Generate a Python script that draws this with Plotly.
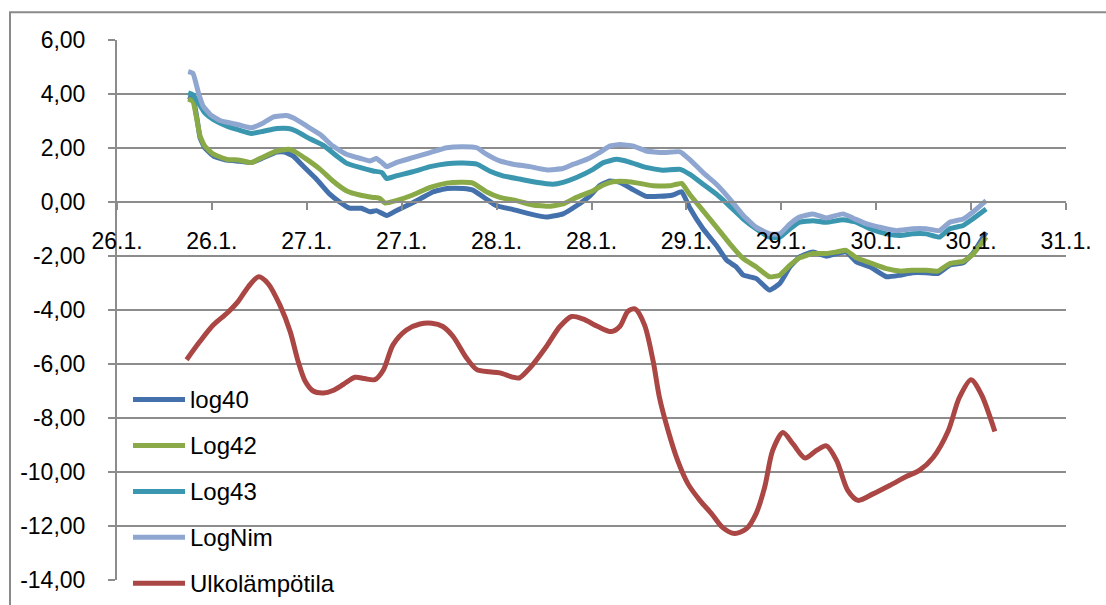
import plotly.graph_objects as go

# Hours counted from 26.1. 00:00, paired with the logged value
LOG40 = [(9.0, 3.91), (9.6, 3.82), (10.1, 3.12), (10.5, 2.38), (11.1, 2.01), (12.2, 1.70),
         (13.9, 1.55), (15.5, 1.51), (17.0, 1.46), (18.5, 1.64), (20.2, 1.85), (21.2, 1.85),
         (22.3, 1.70), (23.5, 1.34), (25.2, 0.85), (26.9, 0.29), (28.2, -0.01), (29.4, -0.23),
         (30.9, -0.23), (32.0, -0.36), (32.8, -0.32), (34.1, -0.50), (35.3, -0.32), (36.6, -0.14),
         (38.3, 0.11), (40.0, 0.38), (41.7, 0.50), (43.8, 0.50), (45.0, 0.44), (46.7, 0.11),
         (48.0, -0.14), (50.1, -0.28), (52.2, -0.44), (54.3, -0.56), (56.4, -0.44), (58.1, -0.14),
         (59.8, 0.23), (61.0, 0.60), (62.3, 0.78), (63.6, 0.73), (65.3, 0.45), (66.9, 0.21),
         (68.6, 0.21), (70.3, 0.26), (71.4, 0.38), (72.4, -0.20), (74.1, -0.99), (75.8, -1.61),
         (77.1, -2.16), (78.3, -2.40), (79.2, -2.71), (80.8, -2.83), (82.5, -3.26), (83.8, -3.02),
         (85.1, -2.40), (86.3, -2.04), (88.0, -1.85), (89.7, -2.01), (91.0, -1.91), (92.2, -1.85),
         (93.5, -2.22), (95.2, -2.40), (97.3, -2.77), (99.0, -2.71), (100.6, -2.62), (102.3, -2.62),
         (103.8, -2.65), (105.3, -2.34), (107.0, -2.25), (108.2, -1.91), (109.9, -1.12)]

LOG42 = [(9.0, 3.82), (9.6, 3.73), (10.1, 3.05), (10.5, 2.44), (11.1, 2.07), (12.2, 1.77),
         (13.9, 1.58), (15.5, 1.55), (17.0, 1.46), (18.5, 1.67), (20.2, 1.89), (21.7, 1.95),
         (22.7, 1.83), (24.0, 1.58), (25.7, 1.21), (27.3, 0.78), (29.0, 0.42), (30.7, 0.26),
         (32.4, 0.17), (33.2, 0.14), (33.9, -0.04), (35.3, 0.05), (37.4, 0.26), (39.6, 0.54),
         (41.7, 0.70), (43.8, 0.73), (45.0, 0.70), (46.7, 0.38), (48.4, 0.17), (50.5, 0.05),
         (52.6, -0.11), (54.7, -0.16), (56.4, -0.07), (58.1, 0.17), (60.2, 0.42), (61.5, 0.63),
         (62.7, 0.75), (64.4, 0.76), (66.1, 0.69), (67.8, 0.60), (69.9, 0.60), (71.4, 0.69),
         (72.4, 0.29), (74.1, -0.32), (75.8, -0.93), (77.5, -1.55), (79.2, -2.10), (80.8, -2.40),
         (82.5, -2.77), (83.8, -2.71), (85.1, -2.34), (86.3, -2.07), (88.0, -1.91), (89.7, -1.91),
         (91.0, -1.85), (92.2, -1.79), (93.5, -2.07), (95.2, -2.25), (97.3, -2.47), (99.0, -2.56),
         (100.6, -2.53), (102.3, -2.53), (103.8, -2.56), (105.3, -2.28), (107.0, -2.20),
         (108.2, -1.95), (109.9, -1.30)]

LOG43 = [(9.0, 4.04), (9.6, 3.97), (10.3, 3.67), (11.1, 3.30), (12.2, 3.05), (13.9, 2.81),
         (15.5, 2.66), (17.0, 2.54), (18.5, 2.62), (20.2, 2.72), (21.7, 2.72), (22.7, 2.62),
         (24.4, 2.34), (26.1, 2.10), (27.8, 1.70), (29.0, 1.44), (30.7, 1.28), (32.4, 1.15),
         (33.5, 1.09), (34.1, 0.87), (35.3, 0.97), (37.4, 1.12), (39.6, 1.31), (41.7, 1.42),
         (43.8, 1.44), (45.5, 1.40), (47.1, 1.15), (48.8, 0.97), (50.9, 0.85), (53.0, 0.73),
         (55.1, 0.66), (56.4, 0.73), (58.1, 0.91), (60.2, 1.21), (61.5, 1.46), (63.2, 1.58),
         (64.8, 1.48), (66.9, 1.28), (69.0, 1.18), (71.2, 1.21), (72.4, 1.03), (74.1, 0.66),
         (75.8, 0.29), (77.5, -0.16), (79.2, -0.63), (80.8, -0.99), (82.5, -1.30), (83.8, -1.30),
         (85.1, -0.99), (86.3, -0.75), (88.0, -0.69), (89.7, -0.75), (91.8, -0.66), (93.5, -0.75),
         (95.2, -0.99), (97.3, -1.18), (99.0, -1.24), (100.6, -1.18), (102.3, -1.18),
         (104.0, -1.30), (105.3, -0.99), (107.0, -0.87), (108.2, -0.63), (109.9, -0.26)]

LOGNIM = [(9.0, 4.83), (9.6, 4.77), (10.3, 4.04), (10.9, 3.55), (11.8, 3.24), (13.0, 3.02),
          (14.3, 2.93), (15.5, 2.85), (17.0, 2.75), (18.5, 2.93), (19.8, 3.15), (21.4, 3.20),
          (22.5, 3.08), (24.0, 2.81), (25.7, 2.50), (27.3, 2.07), (29.0, 1.77), (30.7, 1.62),
          (32.0, 1.52), (32.8, 1.61), (33.5, 1.46), (34.1, 1.31), (35.3, 1.46), (37.4, 1.64),
          (39.6, 1.83), (41.7, 2.01), (43.8, 2.05), (45.5, 2.01), (46.7, 1.77), (48.4, 1.52),
          (50.1, 1.40), (52.2, 1.31), (54.3, 1.19), (56.4, 1.24), (57.7, 1.40), (59.4, 1.58),
          (61.0, 1.83), (62.3, 2.07), (63.6, 2.13), (65.3, 2.07), (66.9, 1.89), (69.0, 1.83),
          (71.2, 1.86), (72.4, 1.58), (74.1, 1.09), (75.8, 0.66), (77.5, 0.11), (79.2, -0.50),
          (80.8, -0.93), (82.5, -1.18), (83.8, -1.18), (85.1, -0.81), (86.3, -0.56), (88.0, -0.44),
          (89.7, -0.59), (91.8, -0.44), (93.1, -0.60), (94.8, -0.81), (96.4, -0.93), (98.5, -1.06),
          (100.6, -0.99), (102.3, -0.99), (104.0, -1.06), (105.3, -0.75), (107.0, -0.63),
          (108.2, -0.38), (109.9, 0.05)]

ULKO = [(8.8, -5.84), (10.5, -5.16), (12.2, -4.55), (13.9, -4.12), (15.3, -3.69), (16.6, -3.14),
        (17.9, -2.77), (19.1, -3.02), (20.6, -3.82), (21.9, -4.80), (22.9, -5.90), (23.8, -6.64),
        (24.8, -7.00), (26.1, -7.07), (27.3, -6.98), (28.6, -6.76), (30.1, -6.49), (31.3, -6.54),
        (32.6, -6.58), (33.7, -6.21), (34.9, -5.29), (36.6, -4.74), (38.3, -4.52), (39.8, -4.49),
        (41.2, -4.61), (42.5, -4.98), (44.2, -5.78), (45.5, -6.21), (47.1, -6.29), (48.4, -6.33),
        (50.1, -6.49), (50.9, -6.51), (52.2, -6.15), (54.3, -5.35), (56.0, -4.61), (57.5, -4.24),
        (58.9, -4.33), (60.8, -4.61), (62.5, -4.80), (63.6, -4.60), (64.6, -4.05), (65.5, -3.96),
        (66.7, -4.55), (67.8, -5.90), (68.6, -7.25), (69.7, -8.48), (70.9, -9.58), (72.2, -10.44),
        (73.7, -11.05), (75.2, -11.55), (76.6, -12.06), (78.1, -12.28), (79.6, -12.10),
        (80.8, -11.55), (81.9, -10.56), (82.9, -9.21), (84.2, -8.54), (85.5, -8.97), (87.0, -9.48),
        (88.4, -9.21), (89.7, -9.03), (91.0, -9.58), (92.4, -10.68), (93.7, -11.05), (95.6, -10.81),
        (97.7, -10.50), (99.8, -10.17), (101.5, -9.93), (103.2, -9.46), (105.1, -8.48),
        (106.5, -7.25), (108.0, -6.58), (109.3, -7.13), (111.0, -8.50)]

SERIES_NAMES = ["log40", "Log42", "Log43", "LogNim", "Ulkolämpötila"]
SERIES_DATA = [LOG40, LOG42, LOG43, LOGNIM, ULKO]
SERIES_COLORS = ["#4471AB", "#8AAA48", "#3A97AF", "#8FA7D0", "#AA4643"]

X_TICK_HOURS = list(range(0, 121, 12))
X_TICK_LABELS = ["26.1.", "26.1.", "27.1.", "27.1.", "28.1.", "28.1.",
                 "29.1.", "29.1.", "30.1.", "30.1.", "31.1."]
Y_TICKS = list(range(-14, 7, 2))
Y_TICK_LABELS = [f"{v:.2f}".replace(".", ",") for v in Y_TICKS]

FONT = "Liberation Sans, Arial, sans-serif"
GRID = "#8c8c8c"

fig = go.Figure()
for name, data, color in zip(SERIES_NAMES, SERIES_DATA, SERIES_COLORS):
    xs = [p[0] for p in data]
    ys = [p[1] for p in data]
    outdoor = name == "Ulkolämpötila"
    fig.add_trace(go.Scatter(
        x=xs, y=ys, name=name, mode="lines", showlegend=False,
        line=dict(color=color, width=5, shape="spline",
                  smoothing=0.8 if outdoor else 0.4),
    ))

# Plot-area geometry in pixels, used to place the hand-drawn legend and frame
L, R, T, B = 117, 40, 40, 22
W, H = 1106, 605
PW, PH = W - L - R, H - T - B


def px_x(px):
    return (px - L) / PW


def px_y(py):
    return (H - B - py) / PH


shapes = []
annotations = []
# legend: short line sample followed by the series name
for i, (name, color) in enumerate(zip(SERIES_NAMES, SERIES_COLORS)):
    yy = px_y(401.5 + i * 46.2)
    shapes.append(dict(type="line", xref="paper", yref="paper",
                       x0=px_x(133), x1=px_x(185), y0=yy, y1=yy,
                       line=dict(color=color, width=5)))
    annotations.append(dict(xref="paper", yref="paper", x=px_x(188), y=yy,
                            xanchor="left", yanchor="middle", showarrow=False,
                            text=name, font=dict(family=FONT, size=24, color="#000")))

# outer chart frame
shapes.append(dict(type="rect", xref="paper", yref="paper",
                   x0=px_x(10), x1=px_x(1120), y0=px_y(620), y1=px_y(12),
                   line=dict(color="#8a8a8a", width=2), layer="below"))

fig.update_layout(
    width=W, height=H,
    margin=dict(l=L, r=R, t=T, b=B),
    paper_bgcolor="white", plot_bgcolor="white",
    font=dict(family=FONT, size=23, color="#000"),
    shapes=shapes, annotations=annotations,
    xaxis=dict(
        range=[0, 120], tickmode="array", tickvals=X_TICK_HOURS, ticktext=X_TICK_LABELS,
        anchor="free", position=0.7, showline=True, linecolor=GRID, linewidth=2,
        ticks="outside", ticklen=7, tickwidth=2, tickcolor=GRID, showgrid=False,
        zeroline=False, ticklabelstandoff=11, tickfont=dict(size=23),
    ),
    yaxis=dict(
        range=[-14, 6], tickmode="array", tickvals=Y_TICKS, ticktext=Y_TICK_LABELS,
        showline=True, linecolor=GRID, linewidth=2, showgrid=True, gridcolor=GRID,
        gridwidth=2, ticks="outside", ticklen=7, tickwidth=2, tickcolor=GRID,
        zeroline=False, ticklabelstandoff=18, tickfont=dict(size=23),
    ),
)

fig.write_html("out.html")
